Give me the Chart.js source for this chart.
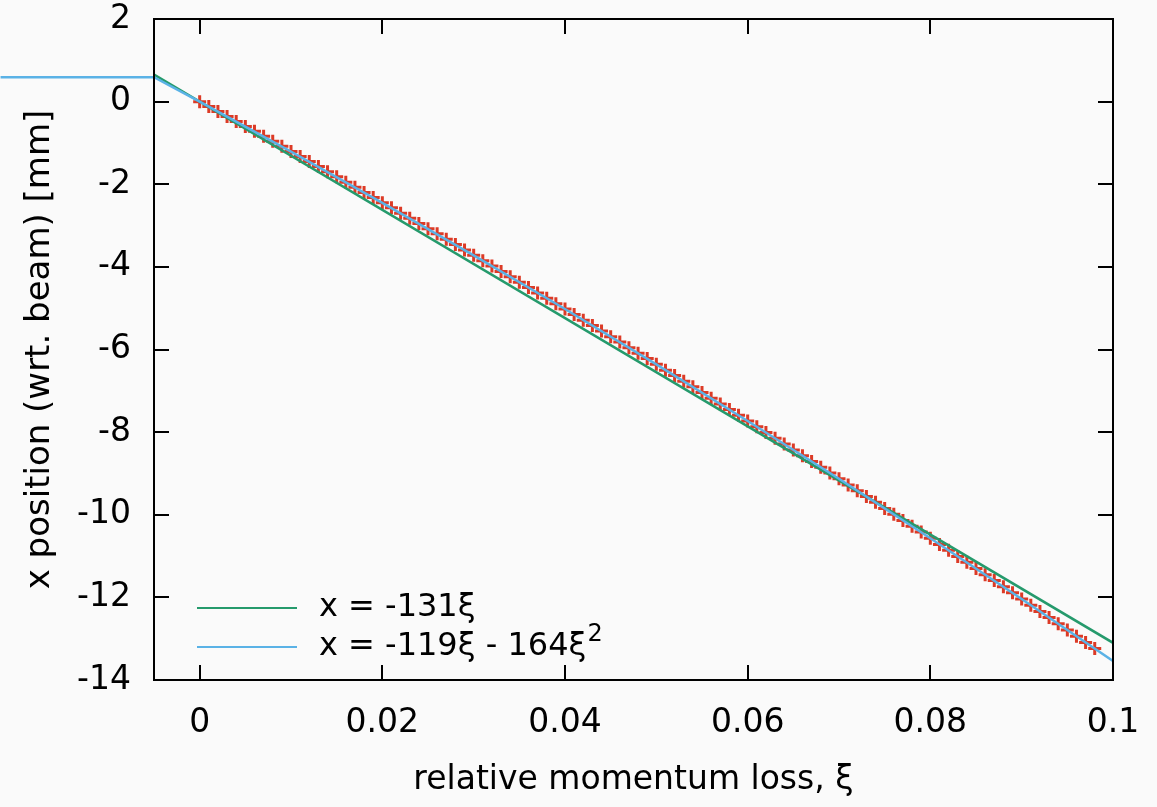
<!DOCTYPE html>
<html>
<head>
<meta charset="utf-8">
<script src="https://cdn.jsdelivr.net/npm/chart.js@4.4.0/dist/chart.umd.min.js"></script>
<style>
  html, body { margin: 0; padding: 0; background: #fafafa; }
  canvas { display: block; }
</style>
</head>
<body>
<canvas id="chart" width="1157" height="807"></canvas>
<script>
// ===== data =====

// measured x position at each xi sample, xi = 0 .. 0.098 every 0.001
const XI_STEP = 0.001;
const measuredPos = [
    0, -0.12, -0.24, -0.36, -0.48, -0.60, -0.72, -0.84, -0.96, -1.08,
    -1.21, -1.33, -1.45, -1.57, -1.70, -1.82, -1.95, -2.07, -2.20, -2.32,
    -2.45, -2.57, -2.70, -2.82, -2.95, -3.08, -3.20, -3.33, -3.46, -3.59,
    -3.72, -3.85, -3.98, -4.11, -4.24, -4.37, -4.50, -4.63, -4.76, -4.89,
    -5.02, -5.15, -5.29, -5.42, -5.55, -5.69, -5.82, -5.96, -6.09, -6.22,
    -6.36, -6.50, -6.63, -6.77, -6.90, -7.04, -7.18, -7.32, -7.45, -7.59,
    -7.73, -7.87, -8.01, -8.15, -8.29, -8.43, -8.57, -8.71, -8.85, -8.99,
    -9.13, -9.28, -9.42, -9.56, -9.70, -9.85, -9.99, -10.14, -10.28, -10.42,
    -10.57, -10.72, -10.86, -11.01, -11.15, -11.30, -11.45, -11.59, -11.74, -11.89,
    -12.04, -12.19, -12.34, -12.49, -12.64, -12.79, -12.94, -13.09, -13.24
];

// linear fit  x = -131 xi
const linFitXi  = [-0.005, 0.1];
const linFitPos = [0.655, -13.1];

// quadratic fit  x = -119 xi - 164 xi^2 (first point is the stray segment left of the frame)
const quadFitXi  = [-0.0218, -0.005, 0, 0.01, 0.02, 0.03, 0.04, 0.05, 0.06, 0.07, 0.08, 0.09, 0.1];
const quadFitPos = [0.59, 0.59, 0, -1.21, -2.45, -3.72, -5.02, -6.36, -7.73, -9.13, -10.57, -12.04, -13.54];

const X_TICKS = [0, 0.02, 0.04, 0.06, 0.08, 0.1];
const Y_TICKS = [2, 0, -2, -4, -6, -8, -10, -12, -14];

const legendText = ['x = -131ξ', 'x = -119ξ - 164ξ'];
const legendSup  = ['', '2'];

const X_TITLE = 'relative momentum loss, ξ';
const Y_TITLE = 'x position (wrt. beam) [mm]';

// ===== styling =====
const FONT = 'DejaVu Sans';
const GREEN = '#259a6c';
const BLUE = '#5ab2e6';
const RED = '#dc3a26';

const toPoints = (xs, ys) => xs.map((x, i) => ({ x, y: ys[i] }));
const measuredPoints = measuredPos.map((y, i) => ({ x: i * XI_STEP, y }));

// frame + inward ticks on all four sides (gnuplot look)
const framePlugin = {
    id: 'frame',
    afterDraw(chart) {
        const { ctx, chartArea: a } = chart;
        const xs = chart.scales.x, ys = chart.scales.y;
        const tl = 15;
        ctx.save();
        ctx.strokeStyle = '#000';
        ctx.lineWidth = 2;
        ctx.beginPath();
        X_TICKS.forEach(v => {
            const px = Math.round(xs.getPixelForValue(v));
            ctx.moveTo(px, a.bottom); ctx.lineTo(px, a.bottom - tl);
            ctx.moveTo(px, a.top); ctx.lineTo(px, a.top + tl);
        });
        Y_TICKS.forEach(v => {
            const py = Math.round(ys.getPixelForValue(v));
            ctx.moveTo(a.left, py); ctx.lineTo(a.left + tl, py);
            ctx.moveTo(a.right, py); ctx.lineTo(a.right - tl, py);
        });
        ctx.stroke();
        ctx.strokeRect(a.left, a.top, a.right - a.left, a.bottom - a.top);
        ctx.restore();
    }
};

// legend inside the plot, lower left
const legendPlugin = {
    id: 'innerLegend',
    afterDraw(chart) {
        const { ctx, chartArea: a } = chart;
        const colors = [GREEN, BLUE];
        const x0 = a.left + 43, x1 = a.left + 143, tx = a.left + 165;
        ctx.save();
        legendText.forEach((txt, i) => {
            const y = a.bottom - 72 + i * 39;
            ctx.strokeStyle = colors[i];
            ctx.lineWidth = 2;
            ctx.beginPath();
            ctx.moveTo(x0, y); ctx.lineTo(x1, y);
            ctx.stroke();
            ctx.fillStyle = '#000';
            ctx.font = `32px "${FONT}"`;
            ctx.textBaseline = 'middle';
            ctx.textAlign = 'left';
            ctx.fillText(txt, tx, y);
            if (legendSup[i]) {
                const w = ctx.measureText(txt).width;
                ctx.font = `24px "${FONT}"`;
                ctx.fillText(legendSup[i], tx + w + 1, y - 12);
            }
        });
        ctx.restore();
    }
};

new Chart(document.getElementById('chart'), {
    type: 'scatter',
    data: {
        datasets: [
            {
                label: 'x = -131ξ',
                data: toPoints(linFitXi, linFitPos),
                showLine: true,
                borderColor: GREEN,
                borderWidth: 2.5,
                pointRadius: 0,
                order: 1,
            },
            {
                label: 'x = -119ξ - 164ξ²',
                data: toPoints(quadFitXi, quadFitPos),
                showLine: true,
                borderColor: BLUE,
                borderWidth: 2.5,
                pointRadius: 0,
                clip: { left: false, top: 0, right: 0, bottom: 0 },
                order: 0,
            },
            {
                label: 'data',
                data: measuredPoints,
                showLine: false,
                pointStyle: 'cross',
                pointRadius: 6.5,
                borderColor: RED,
                backgroundColor: RED,
                pointBorderWidth: 3,
                order: 2,
            }
        ]
    },
    options: {
        responsive: false,
        animation: false,
        devicePixelRatio: 1,
        layout: { padding: { top: 19, right: 44, left: 0, bottom: 0 } },
        plugins: {
            legend: { display: false },
            tooltip: { enabled: false },
        },
        scales: {
            x: {
                type: 'linear',
                min: -0.005,
                max: 0.1,
                afterBuildTicks: s => { s.ticks = X_TICKS.map(v => ({ value: v })); },
                afterFit: s => { s.height = 127; s.paddingLeft = 0; s.paddingRight = 0; },
                grid: { display: false, drawTicks: false },
                border: { display: false },
                ticks: {
                    color: '#000',
                    font: { family: FONT, size: 33 },
                    padding: 24,
                    autoSkip: false,
                    maxRotation: 0,
                    callback: v => String(v),
                },
                title: {
                    display: true,
                    text: X_TITLE,
                    color: '#000',
                    font: { family: FONT, size: 33 },
                    padding: { top: 0, bottom: 7 },
                },
            },
            y: {
                type: 'linear',
                min: -14,
                max: 2,
                afterBuildTicks: s => { s.ticks = Y_TICKS.map(v => ({ value: v })); },
                afterFit: s => { s.width = 154; s.paddingTop = 0; s.paddingBottom = 0; },
                grid: { display: false, drawTicks: false },
                border: { display: false },
                ticks: {
                    color: '#000',
                    font: { family: FONT, size: 33 },
                    padding: 23,
                    autoSkip: false,
                    callback: v => String(v),
                },
                title: {
                    display: true,
                    text: Y_TITLE,
                    color: '#000',
                    font: { family: FONT, size: 34 },
                    padding: { top: 20, bottom: 0 },
                },
            }
        }
    },
    plugins: [framePlugin, legendPlugin]
});
</script>
</body>
</html>
